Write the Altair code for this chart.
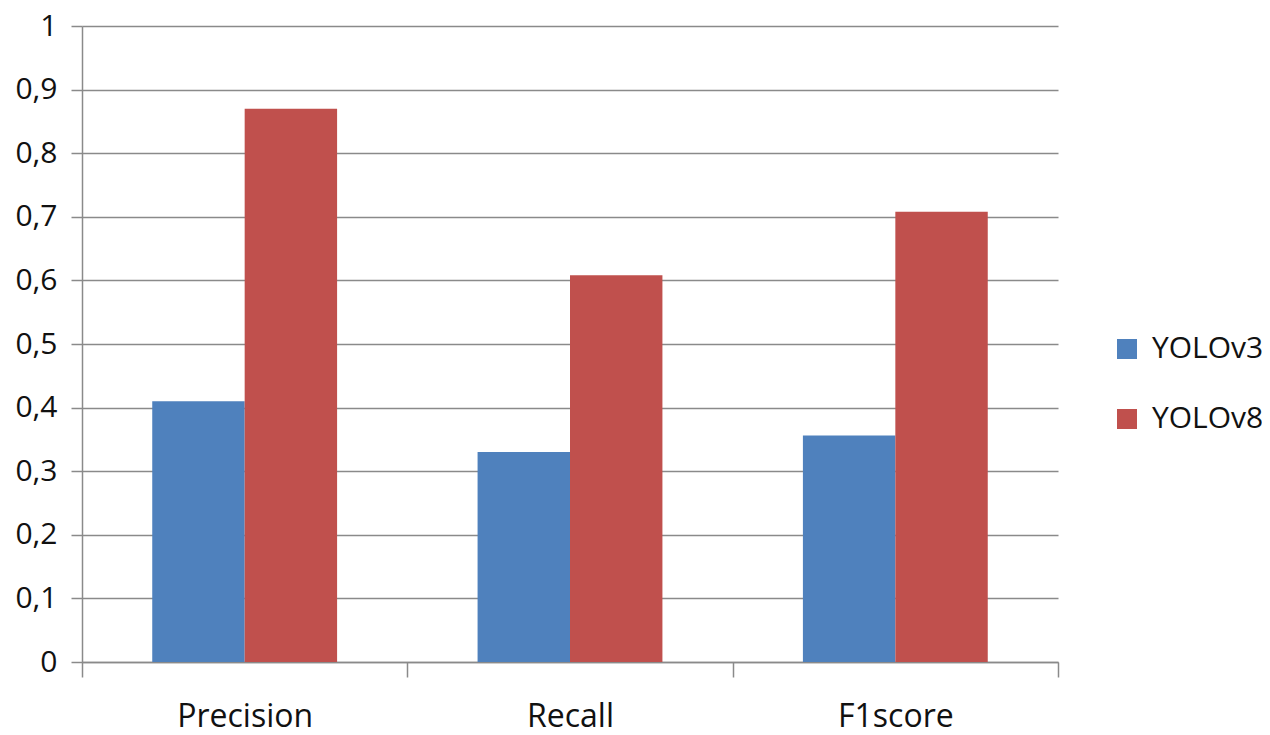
import altair as alt
import pandas as pd

metrics = ["Precision", "Recall", "F1score"]
models = ["YOLOv3", "YOLOv8"]
yolov3 = [0.41, 0.33, 0.356]
yolov8 = [0.87, 0.608, 0.708]
y_ticks = [0, 0.1, 0.2, 0.3, 0.4, 0.5, 0.6, 0.7, 0.8, 0.9, 1]

rows = []
for m, a, b in zip(metrics, yolov3, yolov8):
    rows.append({"metric": m, "model": models[0], "value": a})
    rows.append({"metric": m, "model": models[1], "value": b})
df = pd.DataFrame(rows)

FONT = "Open Sans"
GRID = "#8a8a8a"
FS = 32

chart = alt.Chart(df).mark_bar().encode(
    x=alt.X("metric:N", sort=metrics, title=None,
            scale=alt.Scale(paddingInner=0, paddingOuter=0),
            axis=alt.Axis(labelAngle=0, tickBand="extent", tickSize=15,
                          tickColor=GRID, tickWidth=1.5, domainColor=GRID,
                          domainWidth=1.5, labelFontSize=FS, labelFont=FONT,
                          labelColor="#111111", labelPadding=24, grid=False)),
    xOffset=alt.XOffset("model:N", sort=models,
                        scale=alt.Scale(paddingInner=0, paddingOuter=0.76)),
    y=alt.Y("value:Q", title=None,
            scale=alt.Scale(domain=[0, 1], nice=False),
            axis=alt.Axis(values=y_ticks, format=".1~f",
                          labelExpr="replace(datum.label, '.', ',')",
                          tickSize=11, tickColor=GRID, tickWidth=1.5,
                          domainColor=GRID, domainWidth=1.5,
                          gridColor=GRID, gridWidth=1.5,
                          labelFontSize=30, labelFont=FONT,
                          labelColor="#111111", labelPadding=14)),
    color=alt.Color("model:N", sort=models,
                    scale=alt.Scale(domain=models, range=["#4F81BD", "#C0504D"]),
                    legend=alt.Legend(title=None, orient="none",
                                      legendX=1030, legendY=308,
                                      symbolType="square", symbolSize=400,
                                      symbolStrokeWidth=0, labelFontSize=30,
                                      labelFont=FONT, labelColor="#111111",
                                      rowPadding=40, padding=0,
                                      labelOffset=10)),
).properties(
    width=976, height=636,
    autosize=alt.AutoSizeParams(type="none"),
    padding={"left": 74, "top": 18, "right": 204, "bottom": 75},
).configure_view(stroke=None).configure_axis(labelFlush=False)

chart.save("out.html", embed_options={"renderer": "svg", "actions": False})
